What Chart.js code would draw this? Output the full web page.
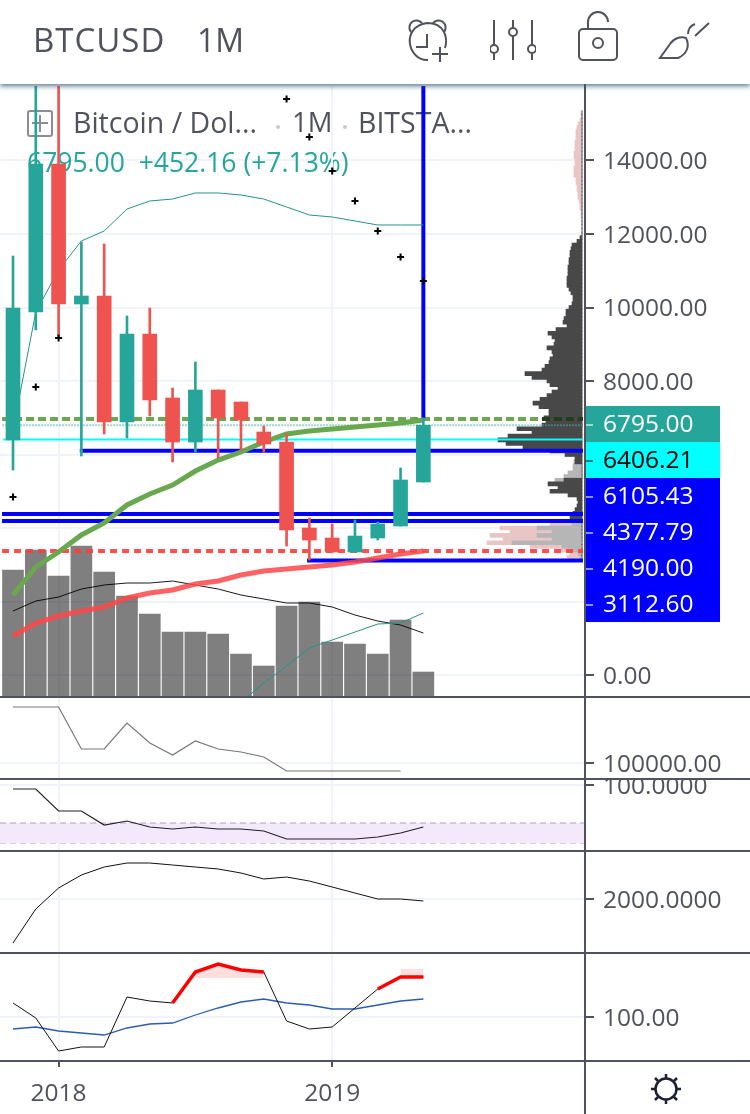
<!DOCTYPE html>
<html>
<head>
<meta charset="utf-8">
<title>BTCUSD 1M</title>
<script src="https://cdn.jsdelivr.net/npm/chart.js@4"></script>
<style>
  html, body { margin: 0; padding: 0; background: #fff; }
  #page { position: relative; width: 750px; height: 1114px; overflow: hidden; font-family: "Open Sans", sans-serif; color: #50535e; }
  canvas { position: absolute; left: 0; }
  #profileChart { top: 86px; z-index: 1; }
  #mainChart { top: 86px; z-index: 3; }
  #chart2 { top: 698px; z-index: 3; }
  #chart3 { top: 780px; z-index: 3; }
  #chart4 { top: 852px; z-index: 3; }
  #chart5 { top: 954px; z-index: 3; }
  #header { position: absolute; left: 0; top: 0; width: 750px; height: 84px; background: #fff; box-shadow: 0 2px 5px rgba(50,85,110,.8); z-index: 6; }
  #symbol { position: absolute; left: 33px; top: 19px; font-size: 33px; line-height: 42px; letter-spacing: 1px; }
  #period { position: absolute; left: 197px; top: 19px; font-size: 32px; line-height: 42px; }
  #header svg { position: absolute; fill: none; stroke: #50535e; stroke-width: 2; }
  .legend { position: absolute; z-index: 2; white-space: pre; }
  #addBox { left: 27px; top: 110px; width: 22px; height: 23px; border: 2px solid #8a8d96; border-radius: 3px; }
  #addBox:before { content: ""; position: absolute; left: 10px; top: 3px; width: 2px; height: 17px; background: #8a8d96; }
  #addBox:after { content: ""; position: absolute; left: 3px; top: 10px; width: 16px; height: 2px; background: #8a8d96; }
  #title1 { left: 73px; top: 104px; font-size: 28.5px; line-height: 36px; }
  #title2 { left: 292px; top: 104px; font-size: 27.5px; line-height: 36px; }
  #title3 { left: 358px; top: 104px; font-size: 28.5px; line-height: 36px; }
  .sep { position: absolute; z-index: 2; width: 4px; height: 4px; border-radius: 2px; background: #c8cad0; top: 125px; }
  #quote { left: 27px; top: 147px; font-size: 26.5px; line-height: 30px; color: #26a69a; }
  .rule { position: absolute; left: 0; width: 750px; height: 2px; background: #50535e; z-index: 5; }
  #axisLine { position: absolute; left: 584px; top: 84px; width: 2px; height: 1030px; background: #50535e; z-index: 5; }
  #sun { position: absolute; left: 644px; top: 1067px; z-index: 5; fill: none; stroke: #1c2030; stroke-width: 2.5; }
</style>
</head>
<body>
<div id="page">
  <div id="header">
    <div id="symbol">BTCUSD</div>
    <div id="period">1M</div>
    <svg style="left:403px;top:17px" width="48" height="48" viewBox="0 0 48 48">
      <path d="M8 15a6 6 0 0 1 11-9M41 15a6 6 0 0 0-11-9"/>
      <path d="M25 43C5 44 -3 10 24 6c18 0 21 15 18 25"/>
      <path d="M24 17v13h-11M37 30v15M29 37h16"/>
    </svg>
    <svg style="left:490px;top:18px" width="46" height="44" viewBox="0 0 46 44">
      <path d="M4 2v25M4 35v7M23 2v9M23 18v24M42 2v25M42 35v7"/>
      <circle cx="4" cy="31" r="4"/><circle cx="23" cy="14" r="4"/><circle cx="42" cy="31" r="4"/>
    </svg>
    <svg style="left:576px;top:11px" width="44" height="52" viewBox="0 0 44 52">
      <path d="M12 18v-7a9 9 0 0 1 20 0"/>
      <rect x="3" y="18" width="38" height="31" rx="4"/>
      <circle cx="22" cy="32" r="5"/>
    </svg>
    <svg style="left:658px;top:22px" width="54" height="40" viewBox="0 0 54 40">
      <path d="M2 36h18c9-4 12-12 8-20-5-2-12 0-16 6z"/>
      <path d="M30 12c0-5 2-8 7-10M37 14l14-13"/>
    </svg>
  </div>

  <div id="addBox" class="legend"></div>
  <div id="title1" class="legend">Bitcoin / Dol...</div>
  <div class="sep" style="left:276px"></div>
  <div id="title2" class="legend">1M</div>
  <div class="sep" style="left:343px"></div>
  <div id="title3" class="legend">BITSTA...</div>
  <div id="quote" class="legend">6795.00  +452.16 (+7.13%)</div>

  <canvas id="profileChart" width="585" height="610"></canvas>
  <canvas id="mainChart" width="750" height="610"></canvas>
  <canvas id="chart2" width="750" height="80"></canvas>
  <canvas id="chart3" width="750" height="70"></canvas>
  <canvas id="chart4" width="750" height="100"></canvas>
  <canvas id="chart5" width="750" height="160"></canvas>

  <div class="rule" style="top:696px"></div>
  <div class="rule" style="top:778px"></div>
  <div class="rule" style="top:850px"></div>
  <div class="rule" style="top:952px"></div>
  <div class="rule" style="top:1060px"></div>
  <div id="axisLine"></div>
  <svg id="sun" width="44" height="44" viewBox="0 0 44 44">
    <circle cx="22" cy="22" r="10.5"/>
    <path d="M22 7v4M22 33v4M7 22h4M33 22h4M11 11l3 3M33 11l-3 3M11 33l3-3M33 33l-3-3"/>
  </svg>
</div>

<script>
// months, Nov 2017 = 0
const xTicks = [2, 14];
const xTickLabels = ['2018', '2019'];

const opens  = [6395, 9878, 13905, 10095, 10313, 6884, 9279, 7537, 6340, 7755, 7429, 6612, 6340, 4000, 3728, 3347, 3728, 4054, 5252];
const closes = [9986, 13905, 10095, 10313, 6884, 9279, 7483, 6340, 7755, 6993, 6940, 6286, 3946, 3673, 3347, 3782, 4109, 5306, 6795];
const highs  = [11401, 19666, 17200, 11782, 11728, 9769, 9986, 7810, 8517, 7755, 7429, 6776, 6558, 4272, 4109, 4218, 4163, 5633, 6993];
const lows   = [5578, 9388, 9197, 5959, 6558, 6449, 7048, 5796, 6068, 5905, 6122, 6068, 3510, 3129, 3347, 3347, 3673, 4054, 5252];

const volumes = [252000, 292000, 240000, 300000, 248000, 200000, 164000, 128000, 128000, 124000, 84000, 60000, 180000, 188000, 108000, 104000, 84000, 152000, 48000];
const volumeMa = [170000, 190000, 198000, 214000, 222000, 226000, 226000, 230000, 222000, 214000, 202000, 194000, 186000, 186000, 178000, 162000, 150000, 142000, 126000];

const greenMa = [2177, 2939, 3347, 3810, 4136, 4626, 4925, 5170, 5551, 5850, 6068, 6340, 6558, 6639, 6694, 6748, 6803, 6857, 6939];
const redMa = [1061, 1415, 1605, 1741, 1850, 2095, 2231, 2313, 2476, 2558, 2721, 2830, 2884, 2939, 2993, 3075, 3184, 3293, 3374];
const upperTeal = [6667, 9878, 11020, 11810, 12082, 12680, 12898, 12952, 13116, 13116, 13061, 12952, 12735, 12517, 12463, 12354, 12245, 12245, 12245];
const lowerTeal = [null, null, null, null, null, null, null, null, null, null, -735, -218, 245, 735, 952, 1170, 1388, 1415, 1687];
const crosses = [4844, 7837, 9170, null, null, null, null, null, null, null, null, null, 15673, 14639, 13714, 12898, 12082, 11374, 10721];

const priceTicks = [14000, 12000, 10000, 8000, 6000, 4000, 2000, 0];
const lastPrice = 6795;
const cyanLevel = 6406.21;
const blueLevels = [4377.79, 4190];
const blueLevelFrom3 = 6105.43;
const blueLevelFrom13 = 3112.60;
const greenDashLevel = 6966;
const redDashLevel = 3374;
const tagValues = [6795, 6406.21, 6105.43, 4377.79, 4190, 3112.60];

// volume profile, one row per 100 USD from 15300 down to 3200
const profileTop = 15300;
const profileDark = [
  0,0,0,0,0,0,0,0,0,0, 0,0,0,0,0,0,0,0,0,0, 0,0,0,0,0,0,0,0,0,0, 0,0,0,0,
  2,5,10,11,12,12,13,13,14,14,14,15,15,15,13,11,9,9,10,13,16,16,18,19,15,26,34,30,27,28,35,30,29,32,33,37,40,57,50,35,32,24,30,35,42,49,43,33,33,38,36,40,65,50,74,84,76,59,32,17,7,
  7,0,0,0,0,18,34,24,32,14,5,4,5,7,9,12,6,
  0,0,0,0,0,0,0,0,0,0
];
const profileGray = [
  0,0,0,0,0,0,0,0,0,0, 0,0,0,0,0,0,0,0,0,0, 0,0,0,0,0,0,0,0,0,0, 0,0,0,0,
  0,0,0,0,0,0,0,0,0,0,0,0,0,0,0,0,0,0,0,0,0,0,0,0,0,0,0,0,0,0,0,0,0,0,0,0,0,0,0,0,0,0,0,0,0,0,0,0,0,0,0,0,0,0,0,0,0,0,0,0,0,
  8,9,9,14,18,27,0,0,0,0,0,0,0,0,0,0,0,
  10,45,30,45,30,70,20,10,4,2
];
const profilePink = [
  1,1,2,4,5,6,6,6,7,7,7,8,8,7,7,8,8,8,6,6,5,5,4,4,3,2,2,1,1,0,0,0,0,0,
  0,0,0,0,0,0,0,0,0,0,0,0,0,0,0,0,0,0,0,0,0,0,0,0,0,0,0,0,0,0,0,0,0,0,0,0,0,0,0,0,0,0,0,0,0,0,0,0,0,0,0,0,0,0,0,0,0,0,0,0,0,
  0,0,0,0,0,0,0,0,0,0,0,0,0,0,0,0,0,
  32,82,72,92,79,95,52,22,12,15
];

const panel2Values = [660000, 660000, 660000, 240000, 240000, 500000, 300000, 180000, 320000, 240000, 210000, 160000, 20000, 20000, 20000, 20000, 20000, 20000, null];
const panel2Ticks = [100000];

const panel3Values = [96, 96, 74, 74, 60, 64, 58, 56, 58, 56, 56, 54, 46, 46, 46, 46, 48, 52, 58];
const panel3Ticks = [100];
const bandTop = 62;
const bandBottom = 42;

const panel4Values = [900, 1750, 2275, 2600, 2800, 2900, 2900, 2850, 2800, 2750, 2650, 2500, 2550, 2450, 2300, 2150, 2000, 2000, 1950];
const panel4Ticks = [2000];

const panel5Values = [114, 99, 66, 70, 70, 120, 116, 114, 145, 153, 147, 145, 96, 88, 90, 109, 128, 140, 140];
const panel5Over = [null, null, null, null, null, null, null, 114, 145, 153, 147, 145, null, null, null, null, 128, 140, 140];
const panel5Blue = [88, 90, 86, 84, 82, 89, 93, 94, 102, 109, 115, 118, 114, 112, 108, 108, 112, 116, 118];
const panel5Ticks = [100];

const INK = '#50535e';
const GRID = '#f0f3fa';
const UP = '#26a69a';
const DOWN = '#ef5350';
const BLUE = '#0000ff';
const FONT = { family: 'Open Sans', size: 24.5 };

const xMin = -0.57, xMax = 25.09;
const lineStart = -0.48, lineEnd = 25;

const pts = arr => arr.map((y, x) => ({ x, y }));
const level = (y, from = lineStart, to = lineEnd) => [{ x: from, y }, { x: to, y }];

function lineSet(data, color, width, order, extra) {
  return Object.assign({
    type: 'line', data, borderColor: color, borderWidth: width, pointRadius: 0,
    tension: 0, fill: false, order, borderCapStyle: 'butt'
  }, extra || {});
}

function barSet(data, colors, thickness, order, extra) {
  return Object.assign({
    type: 'bar', data, backgroundColor: colors, borderWidth: 0, barThickness: thickness,
    grouped: false, order
  }, extra || {});
}

// no label padding: the panels have to keep their full height
function noPadding(s) {
  s.paddingTop = s.paddingBottom = s.paddingLeft = s.paddingRight = 0;
}

function xScale(showLabels) {
  return {
    type: 'linear', min: xMin, max: xMax, offset: false,
    afterBuildTicks: s => { s.ticks = xTicks.map(value => ({ value })); },
    afterFit: s => { s.height = showLabels ? 54 : 0; noPadding(s); },
    border: { display: false },
    grid: { color: GRID, lineWidth: 2, offset: false, drawTicks: showLabels, tickLength: 7, tickColor: INK },
    ticks: {
      display: showLabels, autoSkip: false, maxRotation: 0, padding: 12,
      color: INK, font: FONT,
      callback: v => xTickLabels[xTicks.indexOf(v)]
    }
  };
}

function yScale(min, max, ticks, decimals, hideGrid) {
  return {
    position: 'right', min, max,
    afterBuildTicks: s => { s.ticks = ticks.map(value => ({ value })); },
    afterFit: s => { s.width = 165; noPadding(s); },
    border: { display: false },
    grid: { color: hideGrid ? 'transparent' : GRID, lineWidth: 2, tickLength: 9, tickColor: INK },
    ticks: {
      autoSkip: false, padding: 9, labelOffset: 2, color: INK, font: FONT,
      callback: v => v.toFixed(decimals)
    }
  };
}

function baseOptions(scales) {
  return {
    responsive: false, animation: false, events: [],
    layout: { autoPadding: false, padding: 0 },
    plugins: { legend: { display: false }, tooltip: { enabled: false }, title: { display: false } },
    scales
  };
}

// boxes stacked under the last price on the price axis
const tagStyles = [['#26a69a', '#fff'], ['#00ffff', '#000'], [BLUE, '#fff'], [BLUE, '#fff'], [BLUE, '#fff'], [BLUE, '#fff']];
const priceTags = {
  id: 'priceTags',
  afterDraw(chart) {
    const ctx = chart.ctx, y0 = Math.round(chart.scales.y.getPixelForValue(tagValues[0]));
    ctx.save();
    ctx.font = '24.5px "Open Sans"';
    ctx.textBaseline = 'middle';
    tagValues.forEach((v, i) => {
      const cy = y0 - 1 + i * 36;
      ctx.fillStyle = tagStyles[i][0];
      ctx.fillRect(584, cy - 18, 136, 36);
      ctx.fillStyle = i === 1 ? '#1c7c7c' : 'rgba(255,255,255,.55)';
      ctx.fillRect(586, cy, 7, 2);
      ctx.fillStyle = tagStyles[i][1];
      ctx.fillText(v.toFixed(2), 603, cy + 1);
    });
    ctx.restore();
  }
};

// profile sits under the price chart and carries its horizontal grid
const profileLevels = profileDark.map((_, i) => profileTop - i * 100);
const profileRows = arr => arr.map((x, i) => ({ x, y: profileLevels[i] }));
new Chart(document.getElementById('profileChart'), {
  type: 'bar',
  data: {
    datasets: [
      barSet(profileRows(profileDark), '#484848', 4, 1),
      barSet(profileRows(profileGray), '#b6b6b6', 4, 2),
      barSet(profileRows(profilePink), '#e9c6c6', 4, 3)
    ]
  },
  options: Object.assign(baseOptions({
    x: { type: 'linear', reverse: true, min: -3, max: 582, display: false },
    y: {
      type: 'linear', min: -571, max: 16027, offset: false,
      afterBuildTicks: s => { s.ticks = priceTicks.map(value => ({ value })); },
      afterFit: s => { s.width = 0; noPadding(s); },
      border: { display: false },
      grid: { color: GRID, lineWidth: 2, offset: false, drawTicks: false },
      ticks: { display: false, autoSkip: false }
    }
  }), { indexAxis: 'y' })
});

const candleColors = opens.map((o, i) => (closes[i] >= o ? UP : DOWN));

new Chart(document.getElementById('mainChart'), {
  data: {
    datasets: [
      barSet(pts(volumes), 'rgba(0,0,0,.5)', 21, 30, { yAxisID: 'yVol' }),
      lineSet(pts(volumeMa), 'rgba(0,0,0,.9)', 1, 12, { yAxisID: 'yVol' }),

      lineSet(level(greenDashLevel, lineStart, 23.2), '#6aa84f', 4, 22, { borderDash: [8, 4] }),
      lineSet(level(greenDashLevel, 23.2, lineEnd), '#20401c', 4, 22, { borderDash: [8, 4] }),
      lineSet(level(lastPrice, lineStart, 23.2), 'rgba(38,166,154,.45)', 2, 22, { borderDash: [2, 1] }),
      lineSet(level(lastPrice, 23.2, lineEnd), '#4a7c7c', 2, 22, { borderDash: [2, 1] }),
      lineSet(level(cyanLevel, -0.43), '#00ffff', 2, 21),
      lineSet(level(redDashLevel), 'rgba(255,60,60,.9)', 4, 23, { borderDash: [7, 5] }),
      lineSet(level(blueLevels[0]), BLUE, 4, 20),
      lineSet(level(blueLevels[1]), BLUE, 4, 20),
      lineSet(level(blueLevelFrom3, 2.93), BLUE, 4, 20),
      lineSet(level(blueLevelFrom13, 12.9), BLUE, 4, 20),
      lineSet([{ x: 18, y: 6993 }, { x: 18, y: 16027 }], BLUE, 4, 20),

      lineSet(pts(greenMa), '#6aa84f', 5, 9),
      lineSet(pts(redMa), 'rgba(255,70,70,.85)', 5, 9),
      lineSet(pts(upperTeal), '#26928a', 1, 11),

      barSet(opens.map((o, i) => ({ x: i, y: [lows[i], highs[i]] })), candleColors, 2, 6),
      barSet(opens.map((o, i) => ({ x: i, y: [o, closes[i]] })), candleColors, 14, 5),

      lineSet(pts(lowerTeal), '#26928a', 1, 4),
      lineSet(pts(crosses), '#000', 0, 1, {
        showLine: false, pointStyle: 'cross', pointRadius: 3.5, pointBorderWidth: 2,
        pointBorderColor: '#000'
      })
    ]
  },
  options: baseOptions({
    x: xScale(false),
    y: yScale(-571, 16027, priceTicks, 2, true),
    yVol: { display: false, min: 0, max: 1220000 }
  }),
  plugins: [priceTags]
});

new Chart(document.getElementById('chart2'), {
  data: { datasets: [lineSet(pts(panel2Values), '#777', 1.2, 1)] },
  options: baseOptions({ x: xScale(false), y: yScale(-50000, 750000, panel2Ticks, 2) })
});

new Chart(document.getElementById('chart3'), {
  data: {
    datasets: [
      lineSet(level(bandTop, xMin, xMax), 'rgba(170,140,180,.55)', 1.5, 3, {
        borderDash: [6, 4], fill: '+1', backgroundColor: '#f4e8fc'
      }),
      lineSet(level(bandBottom, xMin, xMax), 'rgba(170,140,180,.55)', 1.5, 3, { borderDash: [6, 4] }),
      lineSet(pts(panel3Values), '#222', 1.2, 1)
    ]
  },
  options: baseOptions({ x: xScale(false), y: yScale(35, 105, panel3Ticks, 4) })
});

new Chart(document.getElementById('chart4'), {
  data: { datasets: [lineSet(pts(panel4Values), '#111', 1, 1)] },
  options: baseOptions({ x: xScale(false), y: yScale(675, 3175, panel4Ticks, 4) })
});

new Chart(document.getElementById('chart5'), {
  data: {
    datasets: [
      lineSet(pts(panel5Over.map((v, i) => (i >= 8 && i <= 11 ? v : null))), 'transparent', 0, 6, {
        fill: { value: 139 }, backgroundColor: 'rgba(255,0,0,.13)'
      }),
      lineSet(pts([null, null, null, null, null, null, null, null, null, null, null, null, null, null, null, null, null, 148, 148]), 'transparent', 0, 6, {
        fill: { value: 140 }, backgroundColor: 'rgba(255,0,0,.13)'
      }),
      lineSet(pts(panel5Blue), '#2a5db0', 1.3, 3),
      lineSet(pts(panel5Values), '#111', 1, 2),
      lineSet(pts(panel5Over), '#ff0000', 3.5, 1)
    ]
  },
  options: baseOptions({ x: xScale(true), y: yScale(57, 163, panel5Ticks, 2) })
});
</script>
</body>
</html>
